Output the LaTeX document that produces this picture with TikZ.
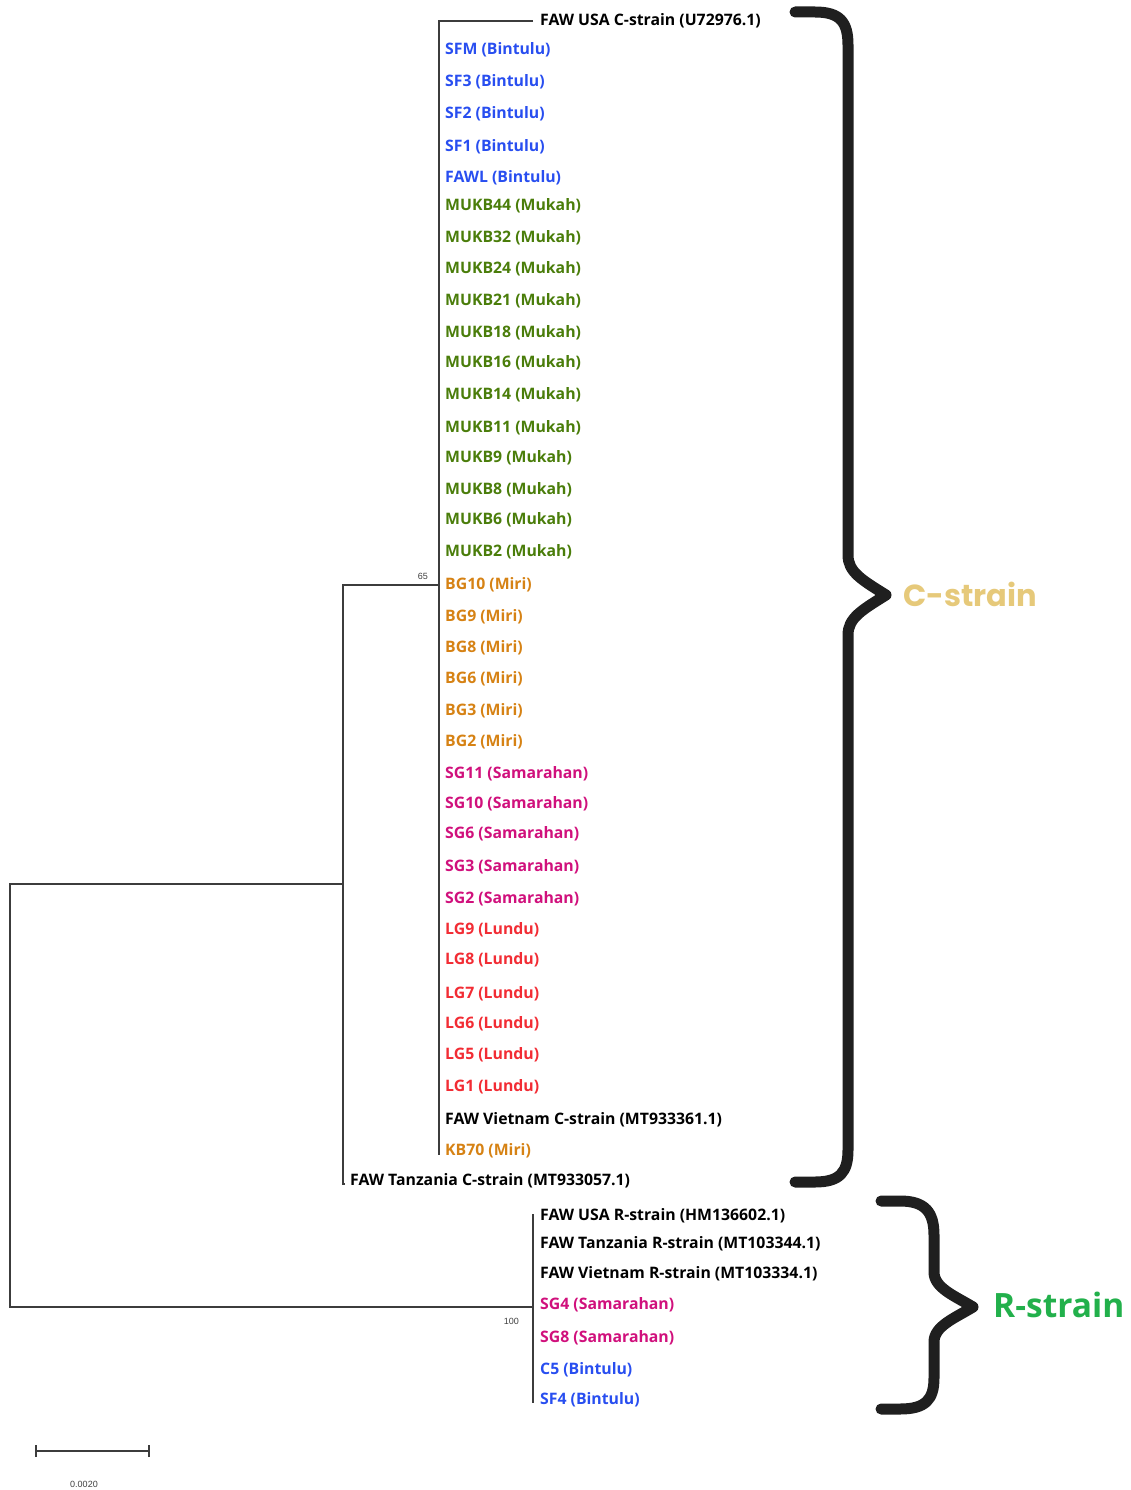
\documentclass[tikz,border=0pt]{standalone}
\usepackage{fontspec}
\setmainfont{Open Sans}
\newfontfamily\capfont{Poppins}
\newfontfamily\numfont{Liberation Sans}
\usetikzlibrary{positioning}

\definecolor{bintulu}{RGB}{40,78,240}
\definecolor{mukah}{RGB}{74,125,10}
\definecolor{miri}{RGB}{214,130,20}
\definecolor{samarahan}{RGB}{208,16,124}
\definecolor{lundu}{RGB}{242,44,52}
\definecolor{cgold}{RGB}{230,201,122}
\definecolor{rgreen}{RGB}{34,176,75}
\definecolor{treeline}{RGB}{60,60,60}

\tikzset{
	branch/.style={draw=treeline, line width=1.3pt},
	taxon/.style={anchor=west, inner sep=0pt, yshift=-1pt, font=\fontsize{15.8}{18}\selectfont\bfseries},
	boot/.style={inner sep=0pt, font=\numfont\fontsize{9}{10}\selectfont, text=black!75},
	bracket/.style={draw=black!88, line width=11pt, line cap=round, line join=round},
}

\begin{document}
\begin{tikzpicture}[x=1pt, y=-1pt]
	\useasboundingbox (0,0) rectangle (1131,1490);
	% taxa, C-strain clade
	\node[taxon] (usaC) at (540,20) {FAW USA C-strain (U72976.1)};
	\node[taxon, text=bintulu] (sfm) at (445,49) {SFM (Bintulu)};
	\node[taxon, text=bintulu] (sf3) at (445,81) {SF3 (Bintulu)};
	\node[taxon, text=bintulu] (sf2) at (445,113) {SF2 (Bintulu)};
	\node[taxon, text=bintulu] (sf1) at (445,146) {SF1 (Bintulu)};
	\node[taxon, text=bintulu] (fawl) at (445,177) {FAWL (Bintulu)};
	\node[taxon, text=mukah] (mukb44) at (445,205) {MUKB44 (Mukah)};
	\node[taxon, text=mukah] (mukb32) at (445,237) {MUKB32 (Mukah)};
	\node[taxon, text=mukah] (mukb24) at (445,268) {MUKB24 (Mukah)};
	\node[taxon, text=mukah] (mukb21) at (445,300) {MUKB21 (Mukah)};
	\node[taxon, text=mukah] (mukb18) at (445,332) {MUKB18 (Mukah)};
	\node[taxon, text=mukah] (mukb16) at (445,362) {MUKB16 (Mukah)};
	\node[taxon, text=mukah] (mukb14) at (445,394) {MUKB14 (Mukah)};
	\node[taxon, text=mukah] (mukb11) at (445,427) {MUKB11 (Mukah)};
	\node[taxon, text=mukah] (mukb9) at (445,457) {MUKB9 (Mukah)};
	\node[taxon, text=mukah] (mukb8) at (445,489) {MUKB8 (Mukah)};
	\node[taxon, text=mukah] (mukb6) at (445,519) {MUKB6 (Mukah)};
	\node[taxon, text=mukah] (mukb2) at (445,551) {MUKB2 (Mukah)};
	\node[taxon, text=miri] (bg10) at (445,584) {BG10 (Miri)};
	\node[taxon, text=miri] (bg9) at (445,616) {BG9 (Miri)};
	\node[taxon, text=miri] (bg8) at (445,647) {BG8 (Miri)};
	\node[taxon, text=miri] (bg6) at (445,678) {BG6 (Miri)};
	\node[taxon, text=miri] (bg3) at (445,710) {BG3 (Miri)};
	\node[taxon, text=miri] (bg2) at (445,741) {BG2 (Miri)};
	\node[taxon, text=samarahan] (sg11) at (445,773) {SG11 (Samarahan)};
	\node[taxon, text=samarahan] (sg10) at (445,803) {SG10 (Samarahan)};
	\node[taxon, text=samarahan] (sg6) at (445,833) {SG6 (Samarahan)};
	\node[taxon, text=samarahan] (sg3) at (445,866) {SG3 (Samarahan)};
	\node[taxon, text=samarahan] (sg2) at (445,898) {SG2 (Samarahan)};
	\node[taxon, text=lundu] (lg9) at (445,929) {LG9 (Lundu)};
	\node[taxon, text=lundu] (lg8) at (445,959) {LG8 (Lundu)};
	\node[taxon, text=lundu] (lg7) at (445,993) {LG7 (Lundu)};
	\node[taxon, text=lundu] (lg6) at (445,1023) {LG6 (Lundu)};
	\node[taxon, text=lundu] (lg5) at (445,1054) {LG5 (Lundu)};
	\node[taxon, text=lundu] (lg1) at (445,1086) {LG1 (Lundu)};
	\node[taxon] (vietC) at (445,1119) {FAW Vietnam C-strain (MT933361.1)};
	\node[taxon, text=miri] (kb70) at (445,1150) {KB70 (Miri)};
	\node[taxon] (tanzC) at (350,1180) {FAW Tanzania C-strain (MT933057.1)};
	% taxa, R-strain clade
	\node[taxon] (usaR) at (540,1215) {FAW USA R-strain (HM136602.1)};
	\node[taxon] (tanzR) at (540,1243) {FAW Tanzania R-strain (MT103344.1)};
	\node[taxon] (vietR) at (540,1273) {FAW Vietnam R-strain (MT103334.1)};
	\node[taxon, text=samarahan] (sg4) at (540,1304) {SG4 (Samarahan)};
	\node[taxon, text=samarahan] (sg8) at (540,1337) {SG8 (Samarahan)};
	\node[taxon, text=bintulu] (c5) at (540,1369) {C5 (Bintulu)};
	\node[taxon, text=bintulu] (sf4) at (540,1399) {SF4 (Bintulu)};
	% internal nodes
	\coordinate (n65) at (439,585);
	\coordinate (nC) at (343,884);
	\coordinate (nR) at (533,1307);
	\coordinate (root) at (10,1307);
	% branches
	\draw[branch] ([xshift=-7pt]usaC.west) -- (usaC.west -| n65) -- ([yshift=-4pt]kb70.west -| n65);
	\draw[branch] (n65) -- (n65 -| nC) -- ([yshift=-3pt]tanzC.west -| nC) -- ++(2,0);
	\draw[branch] (nC) -- (nC -| root) -- (root) -- (nR);
	\draw[branch] ([yshift=2pt]usaR.west -| nR) -- ([yshift=-3pt]sf4.west -| nR);
	\node[boot, anchor=south east] (b65) at ([xshift=-11pt, yshift=5pt]n65) {65};
	\node[boot, anchor=north east] (b100) at ([xshift=-14pt, yshift=-11pt]nR) {100};
	% scale bar
	\coordinate (sb1) at (36,1451);
	\coordinate (sb2) at (149,1451);
	\draw[branch] (sb1) -- (sb2);
	\draw[branch] ([yshift=-6pt]sb1) -- ([yshift=6pt]sb1);
	\draw[branch] ([yshift=-6pt]sb2) -- ([yshift=6pt]sb2);
	\node[boot] (sblab) at (84,1484) {0.0020};
	% brackets
	\draw[bracket] (795,12) -- (815,12) .. controls (840,12) and (848,22) .. (848,45)
		-- (848,555) .. controls (848,572) and (862,580) .. (886,595)
		.. controls (862,610) and (848,618) .. (848,635)
		-- (848,1150) .. controls (848,1172) and (840,1182) .. (815,1182) -- (795,1182);
	\draw[bracket] (881,1201) -- (900,1201) .. controls (925,1201) and (934,1212) .. (934,1235)
		-- (934,1272) .. controls (934,1288) and (955,1296) .. (973,1307)
		.. controls (955,1318) and (934,1326) .. (934,1342)
		-- (934,1378) .. controls (934,1400) and (925,1409) .. (900,1409) -- (881,1409);
	\node[anchor=west, inner sep=0pt, text=cgold, font=\capfont\fontsize{30.5}{34}\selectfont\bfseries] (cstrain) at (903,594) {C-strain};
	\node[anchor=west, inner sep=0pt, text=rgreen, font=\fontsize{33.5}{36}\selectfont\bfseries] (rstrain) at (993,1305) {R-strain};
\end{tikzpicture}
\end{document}
